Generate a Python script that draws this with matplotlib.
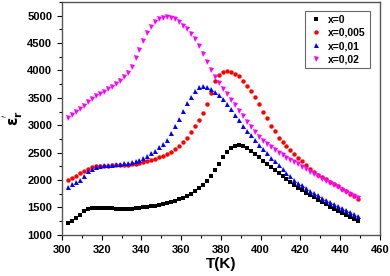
import numpy as np
import matplotlib
matplotlib.use("Agg")
import matplotlib.pyplot as plt
from matplotlib.ticker import MultipleLocator

plt.rcParams['font.family'] = ['Liberation Sans', 'DejaVu Sans']
plt.rcParams['font.weight'] = 'bold'

T = np.arange(303, 450, 2)  # temperature (K)

eps_x0 = [1225, 1260, 1300, 1370, 1435, 1475, 1490, 1492, 1490, 1488,
          1486, 1483, 1480, 1478, 1477, 1477, 1480, 1485, 1493, 1500,
          1510, 1522, 1535, 1550, 1566, 1584, 1603, 1625, 1650, 1680,
          1712, 1750, 1795, 1848, 1910, 1985, 2070, 2180, 2300, 2420,
          2520, 2590, 2625, 2632, 2618, 2580, 2530, 2475, 2420, 2350,
          2290, 2235, 2180, 2125, 2070, 2015, 1960, 1905, 1854, 1811,
          1768, 1726, 1684, 1642, 1600, 1558, 1515, 1476, 1438, 1400,
          1363, 1327, 1292, 1258]

eps_x005 = [2010, 2040, 2080, 2125, 2170, 2210, 2235, 2250, 2258, 2262,
            2265, 2268, 2270, 2273, 2277, 2282, 2290, 2300, 2312, 2326,
            2343, 2362, 2385, 2412, 2445, 2480, 2520, 2565, 2620, 2690,
            2770, 2870, 2980, 3090, 3220, 3390, 3590, 3800, 3920, 3980,
            3995, 3975, 3935, 3890, 3810, 3720, 3620, 3510, 3395, 3240,
            3130, 2995, 2890, 2775, 2690, 2615, 2545, 2475, 2405, 2340,
            2275, 2205, 2150, 2100, 2055, 2012, 1972, 1928, 1884, 1840,
            1796, 1750, 1705, 1660]

eps_x01 = [1880, 1920, 1965, 2010, 2080, 2160, 2205, 2235, 2255, 2268,
           2275, 2282, 2290, 2298, 2306, 2315, 2328, 2345, 2370, 2400,
           2440, 2485, 2535, 2595, 2660, 2740, 2860, 2990, 3110, 3260,
           3400, 3520, 3625, 3700, 3715, 3700, 3660, 3605, 3545, 3470,
           3385, 3295, 3190, 3090, 2990, 2900, 2815, 2730, 2645, 2560,
           2485, 2410, 2340, 2270, 2200, 2135, 2070, 2010, 1955, 1905,
           1855, 1808, 1763, 1720, 1680, 1642, 1605, 1568, 1530, 1492,
           1455, 1418, 1380, 1340]

eps_x02 = [3130, 3180, 3240, 3300, 3360, 3420, 3475, 3525, 3570, 3615,
           3660, 3705, 3755, 3810, 3875, 3960, 4070, 4220, 4380, 4530,
           4680, 4800, 4890, 4940, 4965, 4970, 4960, 4930, 4880, 4820,
           4750, 4670, 4580, 4450, 4300, 4150, 4000, 3880, 3770, 3665,
           3565, 3465, 3365, 3260, 3160, 3060, 2965, 2875, 2790, 2715,
           2650, 2595, 2545, 2500, 2455, 2410, 2370, 2330, 2290, 2245,
           2200, 2155, 2110, 2070, 2025, 1985, 1945, 1905, 1865, 1825,
           1785, 1745, 1705, 1665]

fig = plt.figure(figsize=(3.9, 2.76), dpi=100)
ax = fig.add_axes([0.159, 0.149, 0.815, 0.844])

ax.plot(T, eps_x0, 's', color='black', ms=3.0, mew=0, label='x=0')
ax.plot(T, eps_x005, 'o', color='red', ms=3.2, mew=0, label='x=0,005')
ax.plot(T, eps_x01, '^', color='blue', ms=3.6, mew=0, label='x=0,01')
ax.plot(T, eps_x02, 'v', color='magenta', ms=3.6, mew=0, label='x=0,02')

ax.set_xlim(300, 460)
ax.set_ylim(1000, 5250)
ax.xaxis.set_major_locator(MultipleLocator(20))
ax.xaxis.set_minor_locator(MultipleLocator(10))
ax.yaxis.set_major_locator(MultipleLocator(500))
ax.yaxis.set_minor_locator(MultipleLocator(250))
ax.tick_params(which='both', direction='out', top=False, right=False,
               labelsize=8, width=0.8)
ax.tick_params(which='major', length=3.5)
ax.tick_params(which='minor', length=2)
for s in ax.spines.values():
    s.set_color('#555555')
    s.set_linewidth(1.0)

ax.set_xlabel('T(K)', fontsize=11, fontweight='bold', labelpad=2)
ax.set_ylabel(r"$\mathbf{\varepsilon}^{'}_\mathbf{r}$", fontsize=11)
ax.yaxis.set_label_coords(-0.115, 0.5)

leg = ax.legend(loc='upper right', fontsize=7.5, fancybox=False,
                edgecolor='#444444', handlelength=1.2, handletextpad=0.6,
                borderpad=0.4, labelspacing=0.3, markerscale=1.0,
                bbox_to_anchor=(0.985, 0.985))
leg.get_frame().set_linewidth(0.8)

fig.savefig('out.png', dpi=100)
